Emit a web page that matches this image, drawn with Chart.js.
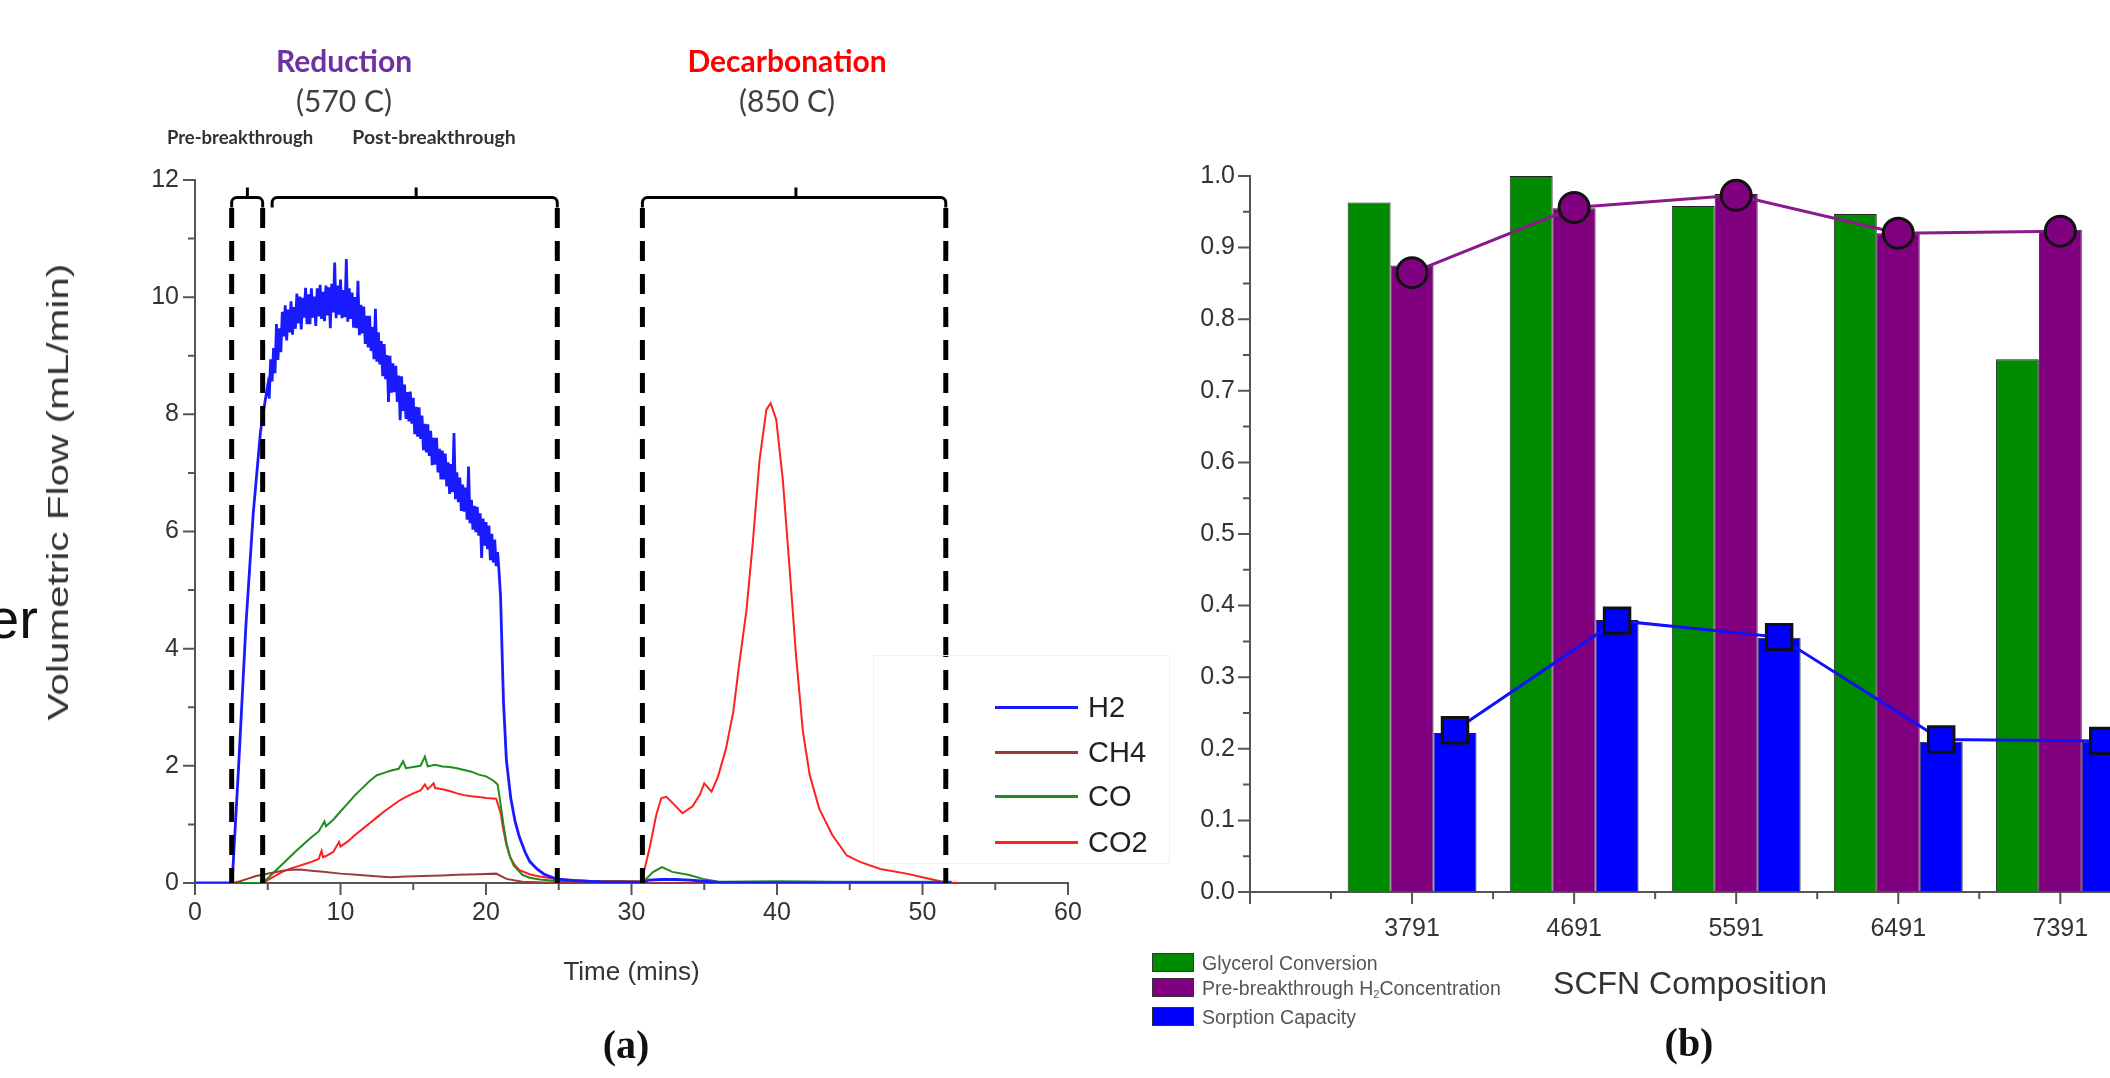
<!DOCTYPE html>
<html>
<head>
<meta charset="utf-8">
<script src="https://cdn.jsdelivr.net/npm/chart.js@4.4.1/dist/chart.umd.min.js"></script>
<style>
  html, body { margin: 0; padding: 0; background: #fff; }
  body { width: 2110px; height: 1078px; overflow: hidden; position: relative;
         font-family: 'Liberation Sans', Arial, sans-serif; }
  .wrap { position: absolute; top: 0; height: 1078px; }
  #wrapA { left: 0; width: 1180px; }
  #wrapB { left: 1130px; width: 1200px; }
  .t { position: absolute; white-space: nowrap; line-height: 1; transform: translate(-50%, -50%); }
  .cal { font-family: Lato, 'Open Sans', sans-serif; }
  .serif { font-family: 'Liberation Serif', 'DejaVu Serif', serif; font-weight: bold; }
  .legA { position: absolute; left: 995px; height: 0; }
  .legA .ln { position: absolute; left: 0; top: -1.5px; width: 83px; height: 3px; }
  .legA .tx { position: absolute; left: 93px; top: -15px; font-size: 29px; line-height: 30px; color: #222; white-space: nowrap; }
  .legB { position: absolute; left: 1152px; height: 20px; }
  .legB .sw { position: absolute; left: 0; top: 0; width: 42px; height: 19px; border: 1px solid #333; box-sizing: border-box; }
  .legB .tx { position: absolute; left: 50px; top: 0; font-size: 19.5px; line-height: 20px; color: #555; white-space: nowrap; }
  .legB sub { font-size: 11px; vertical-align: -3px; line-height: 0; }
</style>
</head>
<body>
<div id="wrapA" class="wrap"><canvas id="chartA"></canvas></div>
<div id="wrapB" class="wrap"><canvas id="chartB"></canvas></div>

<!-- panel (a) annotations -->
<div class="t" style="left:-12px;top:619px;transform:translate(0,-50%);font-size:56px;color:#111;">er</div>
<div class="t" style="left:58px;top:492px;transform:translate(-50%,-50%) rotate(-90deg) scale(1.35,1);font-size:30px;color:#333;">Volumetric Flow (mL/min)</div>
<div class="t cal" style="left:344px;top:60px;font-size:30px;font-weight:bold;color:#7030a0;">Reduction</div>
<div class="t cal" style="left:344px;top:100px;font-size:30px;color:#404040;">(570 C)</div>
<div class="t cal" style="left:240px;top:137px;font-size:18.5px;font-weight:bold;color:#333;">Pre-breakthrough</div>
<div class="t cal" style="left:434px;top:137px;font-size:19.5px;font-weight:bold;color:#333;">Post-breakthrough</div>
<div class="t cal" style="left:787px;top:60px;font-size:30px;font-weight:bold;color:#ff0000;">Decarbonation</div>
<div class="t cal" style="left:787px;top:100px;font-size:30px;color:#404040;">(850 C)</div>
<div class="t serif" style="left:626px;top:1045px;font-size:40px;color:#111;">(a)</div>
<div class="t serif" style="left:1689px;top:1043px;font-size:40px;color:#111;">(b)</div>
<div style="position:absolute;left:873px;top:655px;width:295px;height:207px;border:1px solid #f0f0f0;"></div>
<div id="legendA"></div>
<div id="legendB"></div>

<script>
// ---------------- Panel (a): volumetric flow vs time (mins) ----------------
const gasNames = ['H2', 'CH4', 'CO', 'CO2'];
const gasColors = ['#1a1aff', '#9c3a3a', '#1f8c1f', '#ff2020'];

// [time (min), flow (mL/min)]
const h2Series = [
  [0,0],[2.55,0],[3.0,2.0],[3.5,4.4],[4.0,6.3],[4.5,7.7],[4.8,8.2],
  [5.0,8.5],[5.1,8.27],[5.2,8.94],[5.3,8.56],[5.4,9.13],[5.5,8.7],[5.6,9.54],[5.7,8.93],[5.8,9.47],[5.9,9.06],
  [6.0,9.75],[6.1,9.33],[6.2,9.86],[6.3,9.26],[6.4,9.79],[6.5,9.4],[6.6,9.93],[6.7,9.36],[6.8,9.83],[6.9,9.46],
  [7.0,10.06],[7.1,9.55],[7.2,10.01],[7.3,9.45],[7.4,9.99],[7.5,9.65],[7.6,10.16],[7.7,9.54],[7.8,10.05],[7.9,9.54],
  [8.0,10.15],[8.1,9.65],[8.2,10.01],[8.3,9.51],[8.4,10.15],[8.5,9.67],[8.6,10.21],[8.7,9.63],[8.8,10.09],[8.9,9.59],
  [9.0,10.2],[9.1,9.69],[9.2,10.17],[9.3,9.47],[9.4,10.23],[9.5,9.74],[9.6,10.59],[9.7,9.64],[9.8,10.2],[9.9,9.7],
  [10.0,10.3],[10.1,9.64],[10.2,10.12],[10.3,9.66],[10.4,10.65],[10.5,9.58],[10.6,10.15],[10.7,9.63],[10.8,10.08],[10.9,9.48],
  [11.0,10.0],[11.1,9.47],[11.2,10.28],[11.3,9.35],[11.4,9.87],[11.5,9.38],[11.6,9.84],[11.7,9.2],[11.8,9.68],[11.9,9.14],
  [12.0,9.68],[12.1,9.08],[12.2,9.49],[12.3,8.94],[12.4,9.8],[12.5,8.9],[12.6,9.4],[12.7,8.85],[12.8,9.25],[12.9,8.65],
  [13.0,9.2],[13.1,8.6],[13.2,9.01],[13.3,8.21],[13.4,9.0],[13.5,8.37],[13.6,8.87],[13.7,8.38],[13.8,8.83],[13.9,8.21],
  [14.0,8.66],[14.1,7.9],[14.2,8.65],[14.3,8.06],[14.4,8.51],[14.5,7.92],[14.6,8.38],[14.7,7.88],[14.8,8.39],[14.9,7.84],
  [15.0,8.28],[15.1,7.66],[15.2,8.13],[15.3,7.62],[15.4,8.12],[15.5,7.58],[15.6,7.98],[15.7,7.39],[15.8,7.84],[15.9,7.35],
  [16.0,7.83],[16.1,7.29],[16.2,7.72],[16.3,7.13],[16.4,7.6],[16.5,7.14],[16.6,7.6],[16.7,7.01],[16.8,7.41],[16.9,6.89],
  [17.0,7.38],[17.1,6.89],[17.2,7.33],[17.3,6.77],[17.4,7.18],[17.5,6.64],[17.6,7.15],[17.7,6.67],[17.8,7.68],[17.9,6.55],
  [18.0,7.01],[18.1,6.5],[18.2,6.92],[18.3,6.35],[18.4,6.8],[18.5,6.34],[18.6,6.75],[18.7,6.2],[18.8,7.11],[18.9,6.14],
  [19.0,6.54],[19.1,6.03],[19.2,6.44],[19.3,5.99],[19.4,6.42],[19.5,5.93],[19.6,6.31],[19.7,5.55],[19.8,6.22],[19.9,5.76],
  [20.0,6.16],[20.1,5.7],[20.2,6.1],[20.3,5.51],[20.4,5.96],[20.5,5.47],[20.6,5.86],[20.7,5.41],[20.8,5.65],[20.9,5.3],
  [21.0,4.9],[21.2,3.1],[21.4,2.1],[21.7,1.45],[22.0,1.05],[22.3,0.78],[22.7,0.52],[23.0,0.37],[23.5,0.24],[24.0,0.15],
  [24.8,0.07],[26,0.04],[28,0.02],[30.8,0.01],[31.2,0.05],[32,0.06],[33,0.06],[34,0.05],[35,0.03],[36,0.01],[38,0],[52,0]
];
const ch4Series = [
  [0,0],[2.6,0],[3.1,0.03],[3.6,0.07],[4.2,0.12],[5.4,0.18],[6.3,0.22],[7.2,0.23],[8.0,0.21],[8.8,0.19],
  [10,0.16],[11.1,0.14],[12.2,0.12],[13.4,0.10],[14.5,0.11],[15.7,0.12],[17,0.13],[18,0.14],[19.5,0.15],[20.7,0.16],
  [21.4,0.07],[22.5,0.02],[24,0.01],[30,0],[52,0]
];
const coSeries = [
  [0,0],[4.6,0],[5.0,0.08],[5.5,0.2],[6.0,0.32],[6.5,0.44],[7.0,0.56],[7.5,0.67],[8.0,0.78],[8.5,0.88],[8.9,1.05],
  [9.0,0.97],[9.5,1.08],[10.0,1.22],[10.5,1.36],[11.0,1.5],[11.5,1.62],[12.0,1.74],[12.5,1.84],[13.0,1.88],[13.5,1.92],
  [14.0,1.95],[14.3,2.08],[14.5,1.96],[15.0,1.98],[15.5,2.0],[15.8,2.16],[16.0,1.99],[16.5,2.02],[17.0,1.99],[17.5,1.98],
  [18.0,1.96],[18.5,1.93],[19.0,1.9],[19.5,1.85],[20.0,1.82],[20.5,1.75],[20.8,1.68],[21.0,1.35],[21.2,1.0],[21.4,0.7],
  [21.6,0.48],[21.9,0.3],[22.5,0.14],[23.0,0.09],[23.7,0.06],[25,0.03],[30.8,0.02],[31.5,0.19],[32.1,0.27],[32.8,0.19],
  [33.9,0.14],[34.9,0.07],[36,0.02],[40,0.03],[44,0.02],[48,0.02],[52,0.02]
];
const co2Series = [
  [0,0],[4.7,0],[5.0,0.05],[5.5,0.12],[6.0,0.19],[6.5,0.24],[7.0,0.28],[7.5,0.32],[8.0,0.36],[8.5,0.41],[8.7,0.55],
  [8.8,0.44],[9.0,0.46],[9.5,0.53],[9.9,0.7],[10.0,0.62],[10.5,0.71],[11.0,0.82],[11.5,0.92],[12.0,1.02],[12.5,1.12],
  [13.0,1.22],[13.5,1.31],[14.0,1.4],[14.5,1.47],[15.0,1.53],[15.5,1.58],[15.8,1.68],[16.0,1.6],[16.4,1.7],[16.5,1.62],
  [17.0,1.6],[17.5,1.57],[18.0,1.53],[18.5,1.5],[19.0,1.48],[19.5,1.47],[20.0,1.45],[20.7,1.44],[21.0,1.2],[21.2,0.9],
  [21.4,0.65],[21.7,0.42],[22.0,0.3],[22.3,0.22],[23.0,0.15],[23.5,0.12],[24.8,0.07],[27,0.04],[30.7,0.03],
  [31.25,0.6],[31.7,1.16],[32.05,1.45],[32.4,1.47],[32.85,1.36],[33.5,1.19],[34.2,1.31],[34.7,1.51],[35.0,1.7],[35.5,1.56],
  [35.95,1.82],[36.5,2.3],[37.0,2.93],[37.4,3.73],[37.9,4.65],[38.35,5.85],[38.8,7.22],[39.27,8.08],[39.56,8.19],[39.95,7.91],
  [40.4,6.88],[40.86,5.39],[41.32,3.85],[41.78,2.59],[42.24,1.85],[42.9,1.27],[43.8,0.82],[44.8,0.47],[45.7,0.36],[47.1,0.24],
  [48.9,0.16],[50.3,0.08],[51.6,0.01],[52.4,0]
];
const gasSeries = [h2Series, ch4Series, coSeries, co2Series];

// phase boundaries (minutes) and brackets [start, end, tip]
const phaseLines = [2.52, 4.65, 24.9, 30.75, 51.6];
const phaseBrackets = [[2.52, 4.65, 3.6], [5.3, 24.9, 15.2], [30.75, 51.6, 41.3]];

// ---------------- Panel (b): SCFN composition ----------------
const categories = ['3791', '4691', '5591', '6491', '7391'];
const glycerolConversion   = [0.963, 1.000, 0.958, 0.947, 0.744];
const h2ConcentrationBars  = [0.875, 0.955, 0.975, 0.920, 0.925];
const sorptionCapacityBars = [0.222, 0.380, 0.355, 0.210, 0.210];
const h2ConcentrationLine  = [0.865, 0.956, 0.973, 0.920, 0.923];
const sorptionCapacityLine = [0.226, 0.379, 0.356, 0.213, 0.211];
const barNames = ['Glycerol Conversion', 'Pre-breakthrough H<sub>2</sub>Concentration', 'Sorption Capacity'];
const barColors = ['#008a00', '#800080', '#0000ff'];

// ---------------- plugins ----------------
const tickMarks = {
  id: 'tickMarks',
  afterDraw(chart) {
    const spec = chart.config.options.tickSpec;
    if (!spec) return;
    const { ctx, chartArea: ca } = chart;
    ctx.save();
    ctx.strokeStyle = '#555';
    ctx.lineWidth = 2;
    ctx.beginPath();
    spec.forEach(ax => {
      const s = chart.scales[ax.id];
      const n = Math.round((ax.to - ax.from) / ax.step);
      for (let k = 0; k <= n; k++) {
        const v = ax.from + k * ax.step;
        const len = (k % ax.majorEvery === 0) ? ax.major : ax.minor;
        const p = s.getPixelForValue(v);
        if (ax.horizontal) {
          if (p < ca.left - 1 || p > ca.right + 1) continue;
          ctx.moveTo(p, ca.bottom); ctx.lineTo(p, ca.bottom + len);
        } else {
          if (p < ca.top - 1 || p > ca.bottom + 1) continue;
          ctx.moveTo(ca.left - len, p); ctx.lineTo(ca.left, p);
        }
      }
    });
    ctx.stroke();
    ctx.restore();
  }
};

const phaseMarks = {
  id: 'phaseMarks',
  afterDatasetsDraw(chart) {
    if (chart.canvas.id !== 'chartA') return;
    const { ctx } = chart;
    const xs = chart.scales.x, ys = chart.scales.y;
    ctx.save();
    ctx.strokeStyle = '#000';
    ctx.lineWidth = 5;
    ctx.setLineDash([20, 13]);
    const yTop = ys.getPixelForValue(11.52), yBot = ys.getPixelForValue(0);
    phaseLines.forEach(t => {
      const x = xs.getPixelForValue(t);
      ctx.beginPath(); ctx.moveTo(x, yTop); ctx.lineTo(x, yBot); ctx.stroke();
    });
    ctx.setLineDash([]);
    ctx.lineWidth = 3;
    const yb = ys.getPixelForValue(11.7);
    phaseBrackets.forEach(([a, b, tip]) => {
      const x1 = xs.getPixelForValue(a), x2 = xs.getPixelForValue(b), xt = xs.getPixelForValue(tip);
      ctx.beginPath();
      ctx.moveTo(x1, yb + 10);
      ctx.arcTo(x1, yb, x1 + 8, yb, 5);
      ctx.lineTo(x2 - 5, yb);
      ctx.arcTo(x2, yb, x2, yb + 10, 5);
      ctx.lineTo(x2, yb + 10);
      ctx.moveTo(xt, yb); ctx.lineTo(xt, yb - 10);
      ctx.stroke();
    });
    ctx.restore();
  }
};

Chart.defaults.font.family = "'Liberation Sans', Arial, sans-serif";
Chart.defaults.color = '#333';

const axisGrid = { display: true, drawOnChartArea: false, drawTicks: true, tickLength: 12, color: 'rgba(0,0,0,0)' };
const axisBorder = { display: true, color: '#555', width: 2 };

// ---------------- Chart A ----------------
new Chart(document.getElementById('chartA'), {
  type: 'line',
  data: {
    datasets: gasNames.map((name, i) => ({
      label: name,
      data: gasSeries[i].map(p => ({ x: p[0], y: p[1] })),
      borderColor: gasColors[i],
      borderWidth: i === 0 ? 2.8 : 2,
      pointRadius: 0,
      tension: 0,
      fill: false
    }))
  },
  options: {
    responsive: true, maintainAspectRatio: false, animation: false,
    layout: { padding: { left: 0, top: 180, right: 112, bottom: 0 } },
    plugins: { legend: { display: false }, tooltip: { enabled: false } },
    scales: {
      x: {
        type: 'linear', min: 0, max: 60,
        afterFit: s => { s.height = 195; },
        grid: axisGrid, border: axisBorder,
        ticks: { stepSize: 10, padding: 3, maxRotation: 0, autoSkip: false, font: { size: 25 }, color: '#333' },
        title: { display: true, text: 'Time (mins)', font: { size: 26 }, color: '#333', padding: { top: 0, bottom: 90 } }
      },
      y: {
        type: 'linear', min: 0, max: 12,
        afterFit: s => { s.width = 195; },
        grid: axisGrid, border: axisBorder,
        ticks: { stepSize: 2, padding: 4, font: { size: 25 }, color: '#333' }
      }
    },
    tickSpec: [
      { id: 'x', horizontal: true, from: 0, to: 60, step: 5, majorEvery: 2, major: 12, minor: 7 },
      { id: 'y', horizontal: false, from: 0, to: 12, step: 1, majorEvery: 2, major: 12, minor: 7 }
    ]
  },
  plugins: [tickMarks, phaseMarks]
});

// ---------------- Chart B ----------------
const barFrac = 0.795;
const barShift = barFrac / 3;   // one bar width, in category units
const barSets = [glycerolConversion, h2ConcentrationBars, sorptionCapacityBars];
const barLabelsPlain = ['Glycerol Conversion', 'Pre-breakthrough H2 Concentration', 'Sorption Capacity'];

new Chart(document.getElementById('chartB'), {
  type: 'bar',
  data: {
    datasets: [
      ...barSets.map((vals, i) => ({
        type: 'bar',
        label: barLabelsPlain[i],
        data: vals.map((v, j) => ({ x: j, y: v })),
        backgroundColor: barColors[i],
        borderColor: '#222',
        borderWidth: 1,
        categoryPercentage: barFrac,
        barPercentage: 1.0,
        order: 2
      })),
      {
        type: 'line',
        label: 'H2 Concentration',
        data: h2ConcentrationLine.map((v, j) => ({ x: j, y: v })),
        borderColor: '#8a1a8a', borderWidth: 3, tension: 0,
        pointStyle: 'circle', pointRadius: 15,
        pointBackgroundColor: '#800080', pointBorderColor: '#111', pointBorderWidth: 3,
        clip: false, order: 0
      },
      {
        type: 'line',
        label: 'Sorption Capacity',
        data: sorptionCapacityLine.map((v, j) => ({ x: j + barShift, y: v })),
        borderColor: '#1010ff', borderWidth: 3, tension: 0,
        pointStyle: 'rect', pointRadius: 18,
        pointBackgroundColor: '#0000ff', pointBorderColor: '#111', pointBorderWidth: 3,
        clip: false, order: 0
      }
    ]
  },
  options: {
    responsive: true, maintainAspectRatio: false, animation: false,
    layout: { padding: { left: 0, top: 176, right: 200, bottom: 0 } },
    plugins: { legend: { display: false }, tooltip: { enabled: false } },
    scales: {
      x: {
        type: 'linear', min: -1, max: 4.43, bounds: 'data', offset: false,
        afterFit: s => { s.height = 186; },
        afterBuildTicks: s => { s.ticks = [-1, 0, 1, 2, 3, 4].map(v => ({ value: v })); },
        grid: axisGrid, border: axisBorder,
        ticks: {
          padding: 10, maxRotation: 0, autoSkip: false, font: { size: 25 }, color: '#333',
          callback: v => {
            const i = Math.round(v);
            return (Math.abs(v - i) < 1e-6 && i >= 0 && i < categories.length) ? categories[i] : '';
          }
        },
        title: { display: true, text: 'SCFN Composition', font: { size: 32 }, color: '#333', padding: { top: 0, bottom: 74 } }
      },
      y: {
        type: 'linear', min: 0, max: 1,
        afterFit: s => { s.width = 120; },
        grid: axisGrid, border: axisBorder,
        ticks: { stepSize: 0.1, padding: 3, font: { size: 25 }, color: '#333', callback: v => Number(v).toFixed(1) }
      }
    },
    tickSpec: [
      { id: 'x', horizontal: true, from: -1, to: 4.5, step: 0.5, majorEvery: 2, major: 12, minor: 7 },
      { id: 'y', horizontal: false, from: 0, to: 1, step: 0.05, majorEvery: 2, major: 12, minor: 7 }
    ]
  },
  plugins: [tickMarks]
});

// ---------------- HTML legends ----------------
const legA = document.getElementById('legendA');
const legARowsY = [707, 752, 796, 842];
gasNames.forEach((name, i) => {
  const d = document.createElement('div');
  d.className = 'legA';
  d.style.top = legARowsY[i] + 'px';
  d.innerHTML = '<div class="ln" style="background:' + gasColors[i] + '"></div><div class="tx">' + name + '</div>';
  legA.appendChild(d);
});
const legB = document.getElementById('legendB');
const legBRowsY = [953, 978, 1007];
barNames.forEach((name, i) => {
  const d = document.createElement('div');
  d.className = 'legB';
  d.style.top = legBRowsY[i] + 'px';
  d.innerHTML = '<div class="sw" style="background:' + barColors[i] + '"></div><div class="tx">' + name + '</div>';
  legB.appendChild(d);
});
</script>
</body>
</html>
